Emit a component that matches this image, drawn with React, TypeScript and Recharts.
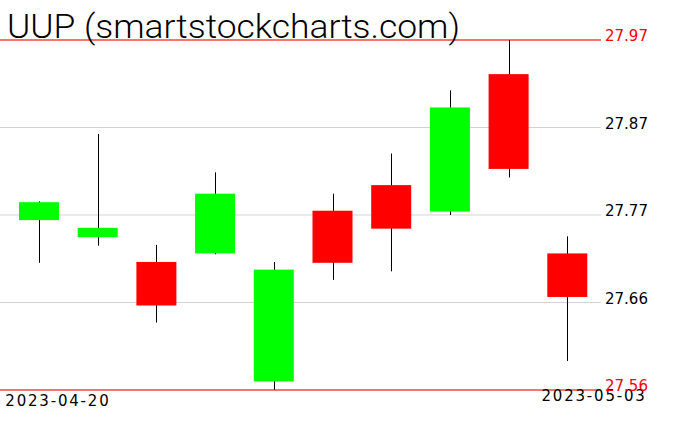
import {
  ComposedChart,
  Bar,
  XAxis,
  YAxis,
  CartesianGrid,
  ReferenceLine,
} from 'recharts'

const dates = [
  '2023-04-20',
  '2023-04-21',
  '2023-04-24',
  '2023-04-25',
  '2023-04-26',
  '2023-04-27',
  '2023-04-28',
  '2023-05-01',
  '2023-05-02',
  '2023-05-03',
]
const opens = [27.759, 27.739, 27.71, 27.72, 27.57, 27.77, 27.8, 27.769, 27.93, 27.72]
const closes = [27.78, 27.75, 27.659, 27.79, 27.701, 27.709, 27.749, 27.891, 27.819, 27.669]
const highs = [27.781, 27.86, 27.73, 27.815, 27.71, 27.79, 27.837, 27.911, 27.97, 27.74]
const lows = [27.709, 27.729, 27.639, 27.719, 27.56, 27.689, 27.699, 27.765, 27.809, 27.594]

const yTicks = [27.56, 27.6625, 27.765, 27.8675, 27.97]
const yTickLabels = ['27.56', '27.66', '27.77', '27.87', '27.97']

const UP = '#00ff00'
const DOWN = '#ff0000'

const data = dates.map((date, i) => ({
  date,
  open: opens[i],
  close: closes[i],
  high: highs[i],
  low: lows[i],
}))

type Candle = (typeof data)[number]

// range bar [low, high], body is placed inside it proportionally
function CandleShape(props: any) {
  const { x, y, width, height, payload } = props
  const c = payload as Candle
  const span = c.high - c.low
  const pix = (v: number) => y + ((c.high - v) / span) * height
  const top = pix(Math.max(c.open, c.close))
  const bottom = pix(Math.min(c.open, c.close))
  const cx = Math.round(x + width / 2) + 0.5
  const color = c.close >= c.open ? UP : DOWN
  return (
    <g>
      <line x1={cx} x2={cx} y1={y} y2={y + height} stroke="#000" strokeWidth={1} />
      <rect x={x} y={top} width={width} height={Math.max(bottom - top, 1)} fill={color} />
    </g>
  )
}

function PriceTick(props: any) {
  const { y, index } = props
  const edge = index === 0 || index === yTicks.length - 1
  return (
    <text
      x={605}
      y={y + 1}
      fill={edge ? '#ff0000' : '#000'}
      fontSize={15}
      fontFamily="DejaVu Sans"
    >
      {yTickLabels[index]}
    </text>
  )
}

function DateTick(props: any) {
  const { x, index, payload } = props
  if (index !== 0 && index !== dates.length - 1) return null
  const first = index === 0
  return (
    <text
      x={first ? x - 34 : x + 79}
      y={first ? 406 : 401}
      textAnchor={first ? 'start' : 'end'}
      fill="#000"
      fontSize={15}
      letterSpacing={1.8}
      fontFamily="DejaVu Sans"
    >
      {payload.value}
    </text>
  )
}

export default function App() {
  return (
    <div style={{ position: 'absolute', left: 0, top: 0, width: 676, height: 431, background: '#fff' }}>
      <ComposedChart
        width={676}
        height={431}
        data={data}
        margin={{ top: 40, right: 0, bottom: 0, left: 0 }}
      >
        <CartesianGrid stroke="#d3d3d3" vertical={false} />
        <XAxis
          dataKey="date"
          interval={0}
          height={41}
          padding={{ left: 10, right: 4 }}
          axisLine={false}
          tickLine={false}
          tick={<DateTick />}
        />
        <YAxis
          orientation="right"
          width={75}
          domain={[27.56, 27.97]}
          ticks={yTicks}
          axisLine={false}
          tickLine={false}
          tick={<PriceTick />}
        />
        <ReferenceLine y={27.97} stroke="#ff0000" />
        <ReferenceLine y={27.56} stroke="#ff0000" />
        <Bar
          dataKey={(d: Candle) => [d.low, d.high]}
          barSize={40}
          shape={<CandleShape />}
          isAnimationActive={false}
        />
      </ComposedChart>
      <svg
        width={676}
        height={60}
        style={{ position: 'absolute', left: 0, top: 0, pointerEvents: 'none' }}
      >
        <text
          x={7}
          y={38}
          fontSize={34}
          fontWeight={300}
          fontFamily="Roboto"
          fill="#000"
          textLength={453}
          lengthAdjust="spacingAndGlyphs"
        >
          UUP (smartstockcharts.com)
        </text>
      </svg>
    </div>
  )
}
